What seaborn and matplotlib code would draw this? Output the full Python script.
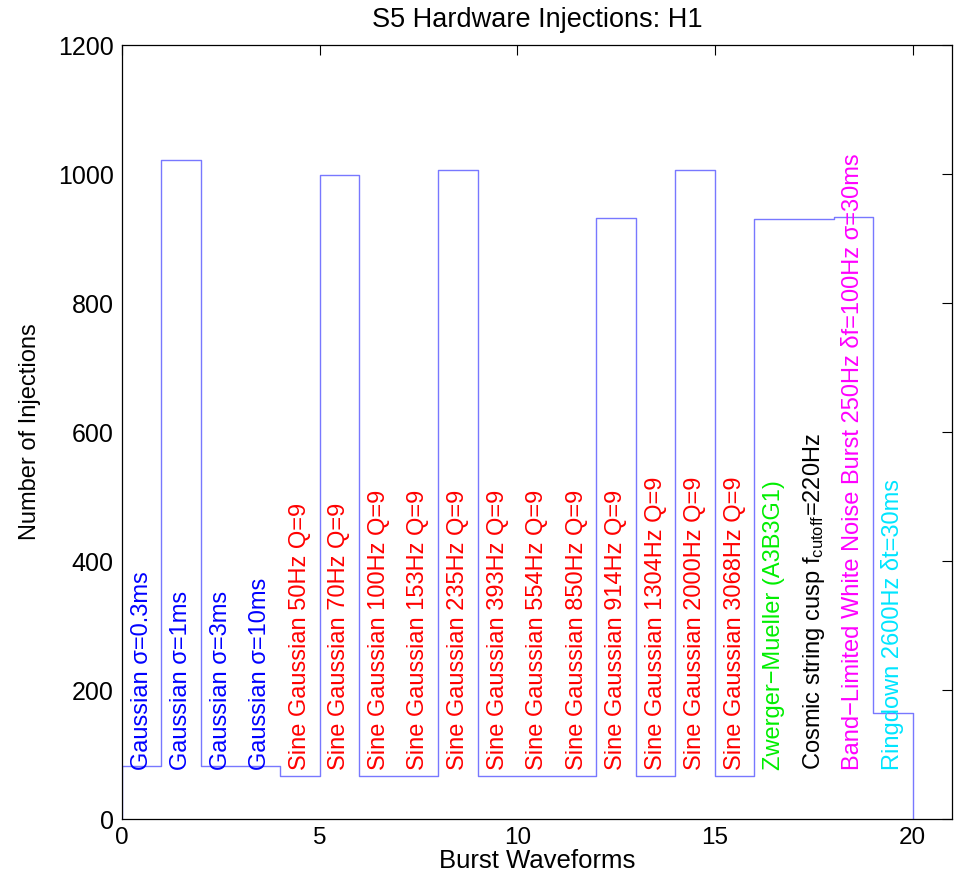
import numpy as np
import pandas as pd
import matplotlib
matplotlib.use("Agg")
import matplotlib.pyplot as plt
import seaborn as sns

# Injection counts per waveform bin (bin i spans [i, i+1))
waveform_index = list(range(20))
injections = [82, 1022, 82, 82, 66, 998, 66, 66, 1006, 66,
              66, 66, 932, 66, 1006, 66, 930, 930, 933, 164]

waveform_names = [
    "Gaussian σ=0.3ms",
    "Gaussian σ=1ms",
    "Gaussian σ=3ms",
    "Gaussian σ=10ms",
    "Sine Gaussian 50Hz Q=9",
    "Sine Gaussian 70Hz Q=9",
    "Sine Gaussian 100Hz Q=9",
    "Sine Gaussian 153Hz Q=9",
    "Sine Gaussian 235Hz Q=9",
    "Sine Gaussian 393Hz Q=9",
    "Sine Gaussian 554Hz Q=9",
    "Sine Gaussian 850Hz Q=9",
    "Sine Gaussian 914Hz Q=9",
    "Sine Gaussian 1304Hz Q=9",
    "Sine Gaussian 2000Hz Q=9",
    "Sine Gaussian 3068Hz Q=9",
    "Zwerger\u2212Mueller (A3B3G1)",
    "Cosmic string cusp f$_{\\mathrm{cutoff}}$=220Hz",
    "Band\u2212Limited White Noise Burst 250Hz δf=100Hz σ=30ms",
    "Ringdown 2600Hz δt=30ms",
]
name_colors = (["#0000ff"] * 4 + ["#ff0000"] * 12 +
               ["#00ee00", "#000000", "#ff00ff", "#00e5ff"])

x_ticks = [0, 5, 10, 15, 20]
y_ticks = [0, 200, 400, 600, 800, 1000, 1200]

sns.set_style("white")
plt.rcParams["font.family"] = ["Liberation Sans", "DejaVu Sans"]
plt.rcParams["mathtext.fontset"] = "custom"
plt.rcParams["mathtext.rm"] = "Liberation Sans"
plt.rcParams["mathtext.it"] = "Liberation Sans"
for key in ("text.color", "axes.labelcolor", "xtick.color", "ytick.color"):
    plt.rcParams[key] = "black"

df = pd.DataFrame({"bin": [i + 0.5 for i in waveform_index],
                   "count": injections})

fig = plt.figure(figsize=(9.55, 8.74), dpi=100)
ax = fig.add_axes([0.1277, 0.0629, 0.8693, 0.8856])

line_color = "#7878ff"
sns.histplot(data=df, x="bin", weights="count", bins=20, binrange=(0, 20),
             element="step", fill=False, color=line_color, linewidth=1.0,
             ax=ax)
# close the outline down to the baseline at both ends
ax.vlines([0, len(injections)], 0, [injections[0], injections[-1]],
          color=line_color, linewidth=1.0)

for i, (name, col) in enumerate(zip(waveform_names, name_colors)):
    ax.text(i + 0.5, 76, name, rotation=90, ha="center", va="bottom",
            color=col, fontsize=17)

ax.set_xlim(0, 21)
ax.set_ylim(0, 1200)
ax.set_xticks(x_ticks)
ax.set_yticks(y_ticks)
ax.tick_params(direction="in", top=True, right=True, length=7, width=0.8)
ax.tick_params(axis="x", pad=6, labelsize=17.5)
ax.tick_params(axis="y", pad=6, labelsize=18)
for s in ax.spines.values():
    s.set_color("black")
    s.set_linewidth(0.9)
ax.set_xlabel("Burst Waveforms", fontsize=18.5, labelpad=0)
ax.set_ylabel("Number of Injections", fontsize=17, labelpad=12)
ax.set_title("S5 Hardware Injections: H1", fontsize=19.5, pad=13)

fig.savefig("out.png", dpi=100)
